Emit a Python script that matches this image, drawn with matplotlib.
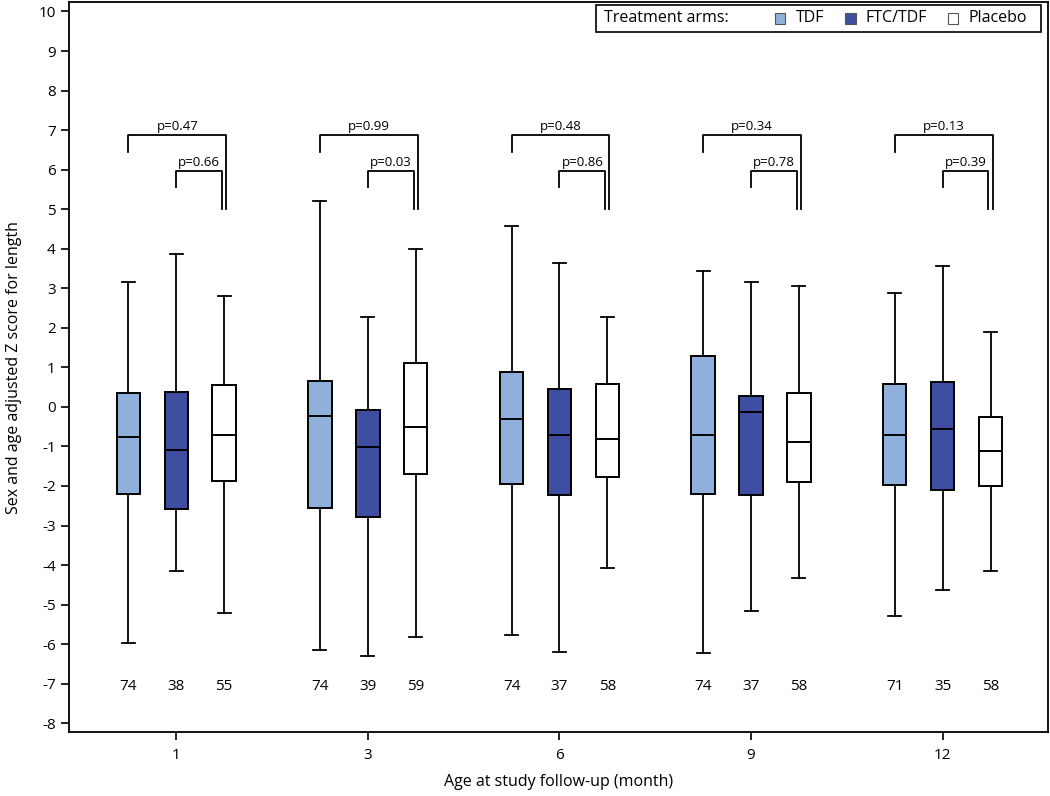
import matplotlib
matplotlib.use("Agg")
import matplotlib.pyplot as plt
from matplotlib.patches import Rectangle

plt.rcParams['font.family'] = ['Open Sans', 'DejaVu Sans']

months = ["1", "3", "6", "9", "12"]
arms = ["TDF", "FTC/TDF", "Placebo"]
colors = ["#8FB0DA", "#3F4EA1", "#FFFFFF"]

# [whislo, q1, med, q3, whishi] per month
tdf = [[-5.97, -2.20, -0.75, 0.35, 3.15],
       [-6.15, -2.55, -0.23, 0.65, 5.20],
       [-5.77, -1.95, -0.30, 0.88, 4.57],
       [-6.22, -2.20, -0.72, 1.28, 3.43],
       [-5.30, -1.97, -0.70, 0.57, 2.87]]
ftc = [[-4.15, -2.58, -1.08, 0.37, 3.87],
       [-6.30, -2.78, -1.02, -0.07, 2.27],
       [-6.20, -2.23, -0.72, 0.45, 3.65],
       [-5.17, -2.23, -0.12, 0.27, 3.15],
       [-4.62, -2.10, -0.57, 0.62, 3.57]]
placebo = [[-5.20, -1.87, -0.72, 0.55, 2.80],
           [-5.83, -1.70, -0.50, 1.12, 4.00],
           [-4.08, -1.78, -0.80, 0.57, 2.27],
           [-4.32, -1.90, -0.90, 0.35, 3.07],
           [-4.15, -2.00, -1.12, -0.25, 1.90]]
n_tdf = [74, 74, 74, 74, 71]
n_ftc = [38, 39, 37, 37, 35]
n_placebo = [55, 59, 58, 58, 58]
p_tdf_vs_placebo = ["0.47", "0.99", "0.48", "0.34", "0.13"]
p_ftc_vs_placebo = ["0.66", "0.03", "0.86", "0.78", "0.39"]

series = [tdf, ftc, placebo]
counts = [n_tdf, n_ftc, n_placebo]

fig = plt.figure(figsize=(10.5, 7.96), dpi=100)
ax = fig.add_axes([0.0657, 0.080, 0.9324, 0.917])

offsets = [-0.25, 0.0, 0.25]
bw = 0.122
for a, (data, col, off) in enumerate(zip(series, colors, offsets)):
    stats = []
    for v in data:
        stats.append(dict(whislo=v[0], q1=v[1], med=v[2], q3=v[3], whishi=v[4], fliers=[]))
    pos = [i + off for i in range(len(months))]
    ax.bxp(stats, positions=pos, widths=bw, patch_artist=True, showfliers=False,
           capwidths=0.068,
           boxprops=dict(facecolor=col, edgecolor="black", linewidth=1.4),
           medianprops=dict(color="black", linewidth=1.4),
           whiskerprops=dict(color="black", linewidth=1.3),
           capprops=dict(color="black", linewidth=1.3),
           manage_ticks=False)
    for i, n in enumerate(counts[a]):
        ax.text(i + off, -7.07, str(n), ha="center", va="center", fontsize=11)

# significance brackets
lw = 1.3
for i in range(len(months)):
    x0, x1, x2 = i - 0.25, i, i + 0.25
    # outer: TDF vs Placebo
    xr = x2 + 0.011
    ax.plot([x0, x0, xr, xr], [6.45, 6.87, 6.87, 5.0], color="black", lw=lw)
    ax.text((x0 + xr) / 2, 6.93, "p=" + p_tdf_vs_placebo[i], ha="center", va="bottom", fontsize=9.5)
    # inner: FTC/TDF vs Placebo
    xr2 = x2 - 0.011
    ax.plot([x1, x1, xr2, xr2], [5.55, 5.96, 5.96, 5.0], color="black", lw=lw)
    ax.text((x1 + xr2) / 2, 6.02, "p=" + p_ftc_vs_placebo[i], ha="center", va="bottom", fontsize=9.5)

ax.set_xlim(-0.56, 4.55)
ax.set_ylim(-8.23, 10.23)
ax.set_yticks(range(-8, 11))
ax.set_yticklabels([str(t) for t in range(-8, 11)], fontsize=11)
ax.set_xticks(range(len(months)))
ax.set_xticklabels(months, fontsize=11)
ax.tick_params(direction="out", length=6, width=1.2)
ax.tick_params(axis="x", pad=5)
for s in ax.spines.values():
    s.set_linewidth(1.3)
ax.set_xlabel("Age at study follow-up (month)", fontsize=11.5, labelpad=8)
ax.set_ylabel("Sex and age adjusted Z score for length", fontsize=11.5, labelpad=12)

# legend box (custom, inside top-right)
lx0, lx1 = 0.538, 0.993
ly0, ly1 = 0.959, 0.997
ym = (ly0 + ly1) / 2
ax.add_patch(Rectangle((lx0, ly0), lx1 - lx0, ly1 - ly0, transform=ax.transAxes,
                       facecolor="white", edgecolor="black", lw=1.2, zorder=5))
ax.text(lx0 + 0.008, ym, "Treatment arms:", transform=ax.transAxes,
        ha="left", va="center", fontsize=11.5, zorder=6)
leg_x = [0.721, 0.793, 0.898]
for x, name, col in zip(leg_x, arms, colors):
    ax.add_patch(Rectangle((x, ym - 0.0075), 0.0105, 0.015, transform=ax.transAxes,
                           facecolor=col, edgecolor="#555555", lw=0.8, zorder=6))
    ax.text(x + 0.021, ym, name, transform=ax.transAxes,
            ha="left", va="center", fontsize=11.5, zorder=6)

fig.savefig("out.png", dpi=100)
